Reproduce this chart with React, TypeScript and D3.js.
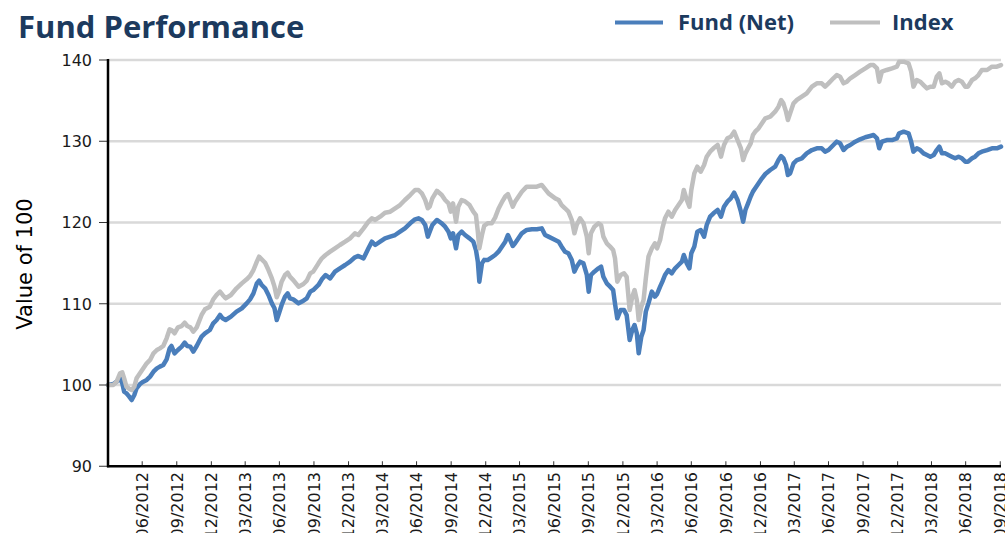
import React from "react";
import * as d3 from "d3";

// ---- data ----
const dates = [
  "2012-03-31","2012-04-14","2012-04-23","2012-05-02","2012-05-08","2012-05-13","2012-05-19","2012-05-26","2012-06-02","2012-06-09",
  "2012-06-15","2012-06-24","2012-07-03","2012-07-12","2012-07-21","2012-07-30","2012-08-08","2012-08-16","2012-08-25","2012-09-03",
  "2012-09-11","2012-09-16","2012-09-24","2012-10-03","2012-10-13","2012-10-21","2012-10-28","2012-11-05","2012-11-13","2012-11-22",
  "2012-12-05","2012-12-14","2012-12-27","2013-01-05","2013-01-14","2013-01-23","2013-01-30","2013-02-07","2013-02-21","2013-03-08",
  "2013-03-22","2013-04-04","2013-04-13","2013-04-22","2013-05-01","2013-05-07","2013-05-14","2013-05-23","2013-06-01","2013-06-10",
  "2013-06-17","2013-06-23","2013-06-29","2013-07-06","2013-07-15","2013-07-22","2013-07-28","2013-08-06","2013-08-20","2013-09-02",
  "2013-09-11","2013-09-20","2013-09-28","2013-10-12","2013-10-21","2013-10-31",
  "2013-11-12","2013-11-25","2013-12-08","2013-12-22","2014-01-04","2014-01-17","2014-01-26","2014-02-09","2014-02-22","2014-03-03",
  "2014-03-12","2014-03-25","2014-04-07","2014-04-21","2014-05-04","2014-05-17","2014-05-30","2014-06-13","2014-06-26","2014-07-05",
  "2014-07-14","2014-07-23","2014-07-30","2014-08-04","2014-08-11","2014-08-23","2014-09-05","2014-09-14","2014-09-23","2014-09-29",
  "2014-10-05","2014-10-13","2014-10-19","2014-10-28","2014-11-06","2014-11-18","2014-11-28","2014-12-05","2014-12-10","2014-12-14",
  "2014-12-21","2014-12-27","2015-01-05","2015-01-16","2015-01-25","2015-02-03","2015-02-12","2015-02-21","2015-02-28","2015-03-06",
  "2015-03-13","2015-03-19","2015-03-28","2015-04-06","2015-04-19","2015-05-03","2015-05-16","2015-05-29","2015-06-07","2015-06-16",
  "2015-07-04","2015-07-13","2015-07-21","2015-07-30","2015-08-08","2015-08-17","2015-08-24","2015-08-30","2015-09-08","2015-09-17",
  "2015-09-26","2015-10-01","2015-10-07","2015-10-16","2015-10-27","2015-11-03","2015-11-09","2015-11-18","2015-11-27","2015-12-05",
  "2015-12-10","2015-12-16","2015-12-25","2016-01-03","2016-01-10","2016-01-18","2016-01-25","2016-01-31","2016-02-06","2016-02-11",
  "2016-02-18","2016-02-24","2016-03-01","2016-03-08","2016-03-17","2016-03-25","2016-03-31","2016-04-08","2016-04-14","2016-04-21",
  "2016-04-30","2016-05-09","2016-05-18","2016-05-27","2016-06-05","2016-06-10","2016-06-18","2016-06-25","2016-06-30","2016-07-08",
  "2016-07-16","2016-07-25","2016-08-03","2016-08-10","2016-08-19","2016-08-28","2016-09-08","2016-09-17","2016-09-25","2016-10-04",
  "2016-10-13","2016-10-22","2016-10-31","2016-11-09","2016-11-15","2016-11-21","2016-11-28","2016-12-05","2016-12-11","2016-12-17",
  "2016-12-26","2017-01-04","2017-01-13","2017-01-26","2017-02-08",
  "2017-02-17","2017-02-24","2017-03-02","2017-03-09","2017-03-14","2017-03-20","2017-03-29","2017-04-07","2017-04-20","2017-05-03",
  "2017-05-17","2017-05-30","2017-06-12","2017-06-21","2017-06-30","2017-07-13","2017-07-22","2017-07-31","2017-08-09","2017-08-18",
  "2017-08-27","2017-09-09","2017-09-22","2017-10-06","2017-10-19","2017-10-28","2017-11-06","2017-11-12","2017-11-19","2017-12-02",
  "2017-12-16","2017-12-29","2018-01-04","2018-01-16","2018-01-29","2018-02-05","2018-02-11","2018-02-20","2018-03-01","2018-03-10",
  "2018-03-19","2018-03-28","2018-04-06","2018-04-14","2018-04-21","2018-04-28","2018-05-07","2018-05-15","2018-05-24","2018-06-02",
  "2018-06-11","2018-06-20","2018-06-29","2018-07-06","2018-07-17","2018-07-25","2018-08-03","2018-08-12","2018-08-26","2018-09-08",
  "2018-09-21","2018-10-02"
];

const fundNet = [
  100,100.12,100.41,100.82,100.2,99.18,98.98,98.6,98.15,98.77,
  99.59,100.12,100.41,100.62,101.03,101.64,102.05,102.26,102.46,103.16,
  104.51,104.8,103.9,104.31,104.72,105.21,104.8,104.72,104.1,104.8,
  105.95,106.36,106.77,107.59,108.0,108.62,108.21,108.0,108.41,109.03,
  109.44,110.05,110.54,111.28,112.51,112.84,112.31,111.9,111.08,110.05,
  109.44,108.0,108.82,109.85,110.87,111.28,110.67,110.54,110.05,110.38,
  110.67,111.49,111.69,112.31,113.01,113.54,
  113.13,113.95,114.36,114.77,115.18,115.72,115.88,115.59,116.82,117.64,
  117.23,117.64,118.05,118.26,118.46,118.87,119.28,119.9,120.39,120.51,
  120.31,119.69,118.26,118.87,119.69,120.31,119.9,119.49,118.87,118.05,
  118.67,116.82,118.46,118.87,118.46,118.05,117.64,116.62,115.18,112.72,
  114.97,115.4,115.38,115.72,116.0,116.41,117.03,117.64,118.46,117.85,
  117.11,117.44,118.05,118.67,119.08,119.16,119.16,119.28,118.46,118.26,
  117.85,117.64,117.03,116.41,116.21,115.38,113.95,114.56,115.18,114.98,
  113.54,111.49,113.54,113.95,114.36,114.56,113.33,112.51,112.1,111.69,
  110.0,108.21,109.23,109.23,108.6,105.54,106.77,107.38,106.36,103.9,
  105.95,106.77,109.03,110.05,111.49,110.87,111.2,112.1,112.72,113.54,
  114.15,113.74,114.36,114.77,115.18,116.0,114.97,114.36,116.21,117.03,
  118.87,119.08,118.26,119.69,120.72,121.13,121.54,120.72,121.95,122.56,
  122.97,123.67,122.77,121.33,120.1,121.54,122.36,123.2,123.8,124.21,
  124.82,125.44,125.97,126.46,126.87,
  127.69,128.18,127.9,127.08,125.85,126.05,127.28,127.69,127.9,128.51,
  128.92,129.13,129.13,128.72,128.92,129.54,129.95,129.74,128.92,129.33,
  129.54,129.95,130.24,130.49,130.65,130.77,130.36,129.13,129.95,130.15,
  130.15,130.36,130.98,131.18,130.98,129.95,128.72,129.13,128.92,128.51,
  128.31,128.1,128.31,128.92,129.33,128.51,128.51,128.31,128.1,127.9,
  128.1,127.9,127.49,127.49,127.9,128.1,128.51,128.72,128.92,129.13,
  129.13,129.33
];

const indexValues = [
  100,100.0,100.41,101.44,101.56,100.82,99.8,99.55,99.38,99.8,
  100.82,101.44,102.05,102.67,103.08,103.9,104.31,104.51,104.8,105.75,
  106.86,106.77,106.36,107.1,107.26,107.67,107.26,107.1,106.56,107.1,
  108.62,109.32,109.64,110.54,111.08,111.49,111.08,110.67,111.08,111.9,
  112.51,113.01,113.42,114.15,115.18,115.79,115.47,115.05,114.15,113.13,
  112.1,110.8,111.49,112.72,113.54,113.83,113.33,112.92,112.1,112.43,
  112.84,113.74,113.95,114.97,115.59,116.0,
  116.41,116.82,117.23,117.64,118.05,118.67,118.46,119.28,120.1,120.51,
  120.31,120.72,121.21,121.33,121.75,122.15,122.77,123.38,124.0,124.0,
  123.59,122.77,121.75,121.95,122.97,123.9,123.38,122.77,122.36,121.33,
  122.36,120.1,121.95,122.77,122.6,122.15,121.33,120.9,118.87,116.82,
  118.46,119.6,119.9,119.9,120.6,121.7,122.5,123.2,123.5,122.8,
  121.95,122.56,123.18,123.79,124.41,124.41,124.41,124.62,124.1,123.59,
  122.97,122.77,122.15,121.75,121.33,120.31,118.67,119.69,120.51,119.9,
  118.26,116.21,118.67,119.49,119.9,119.69,118.26,117.44,117.03,116.62,
  115.59,112.72,113.54,113.75,113.3,109.23,110.87,111.69,110.46,108.0,
  109.64,110.46,113.13,115.79,116.82,117.44,116.82,117.85,119.28,120.51,
  121.33,120.72,121.54,122.15,122.77,124.0,122.77,121.95,124.0,126.05,
  126.87,126.26,127.08,128.1,128.72,129.13,129.54,128.1,129.54,130.36,
  130.56,131.18,130.15,129.13,127.69,128.51,129.13,129.74,130.77,131.18,
  131.59,132.21,132.82,133.03,133.64,
  134.26,135.08,134.67,133.64,132.62,133.44,134.67,135.08,135.49,135.9,
  136.72,137.13,137.13,136.72,137.13,137.75,138.15,137.95,137.13,137.33,
  137.75,138.15,138.56,138.97,139.38,139.38,138.97,137.33,138.56,138.77,
  138.97,139.18,139.79,139.79,139.59,138.56,136.72,137.54,137.33,136.92,
  136.51,136.72,136.72,137.95,138.36,137.13,137.33,137.13,136.72,137.33,
  137.54,137.33,136.72,136.72,137.54,137.75,138.15,138.77,138.77,139.18,
  139.18,139.38
];

const yTicks = [90, 100, 110, 120, 130, 140];
const gridValues = [100, 110, 120, 130, 140];
const xTickDates = [
  "2012-06-30","2012-09-30","2012-12-31","2013-03-31","2013-06-30","2013-09-30","2013-12-31",
  "2014-03-31","2014-06-30","2014-09-30","2014-12-31","2015-03-31","2015-06-30","2015-09-30","2015-12-31",
  "2016-03-31","2016-06-30","2016-09-30","2016-12-31","2017-03-31","2017-06-30","2017-09-30","2017-12-31",
  "2018-03-31","2018-06-30","2018-09-30"
];

const seriesNames = ["Fund (Net)", "Index"];
const seriesColors = ["#4a7ebb", "#bfbfbf"];
const titleText = "Fund Performance";
const yAxisTitle = "Value of 100";

export default function App() {
  const W = 1005;
  const H = 533;
  const left = 108, right = 1001, top = 60, bottom = 466.25;
  const parse = d3.timeParse("%Y-%m-%d");
  const fmt = d3.timeFormat("%m/%Y");
  const parsed = dates.map((d) => parse(d) as Date);

  const x = d3.scaleTime().domain([parsed[0], parsed[parsed.length - 1]]).range([left, right]);
  const y = d3.scaleLinear().domain([90, 140]).range([bottom, top]);

  const line = d3
    .line<number>()
    .x((_, i) => x(parsed[i]))
    .y((v) => y(v));

  const tickFont = "'DejaVu Sans', Verdana, sans-serif";
  const boldFont = "'Open Sans', 'Noto Sans', sans-serif";
  const navy = "#1c3a5e";

  return (
    <div style={{ position: "absolute", left: 0, top: 0, width: W, height: H, overflow: "hidden", background: "#fff" }}>
      <svg width={W} height={H} style={{ display: "block" }}>
        <rect width={W} height={H} fill="#fff" />
        {/* title */}
        <text x={18} y={38} fontFamily={boldFont} fontWeight={700} fontSize={31} fill={navy}>
          {titleText}
        </text>
        {/* legend */}
        <line x1={615} x2={663} y1={22.5} y2={22.5} stroke={seriesColors[0]} strokeWidth={4} />
        <text x={678} y={29.5} fontFamily={boldFont} fontWeight={700} fontSize={22} fill={navy}>
          {seriesNames[0]}
        </text>
        <line x1={830} x2={880} y1={22.5} y2={22.5} stroke={seriesColors[1]} strokeWidth={4} />
        <text x={892} y={29.5} fontFamily={boldFont} fontWeight={700} fontSize={22} fill={navy}>
          {seriesNames[1]}
        </text>

        {/* gridlines */}
        {gridValues.map((v) => (
          <line key={"g" + v} x1={left} x2={right} y1={y(v)} y2={y(v)} stroke="#d9d9d9" strokeWidth={2.5} />
        ))}

        {/* series */}
        <path d={line(fundNet) || ""} fill="none" stroke={seriesColors[0]} strokeWidth={4.5} strokeLinejoin="round" strokeLinecap="round" />
        <path d={line(indexValues) || ""} fill="none" stroke={seriesColors[1]} strokeWidth={4.5} strokeLinejoin="round" strokeLinecap="round" />

        {/* y axis */}
        {yTicks.map((v) => (
          <g key={"y" + v}>
            <line x1={left - 9} x2={left} y1={y(v)} y2={y(v)} stroke="#333" strokeWidth={1} />
            <text x={92} y={y(v)} dy="0.36em" textAnchor="end" fontFamily={tickFont} fontSize={16} fill="#1a1a1a">
              {v}
            </text>
          </g>
        ))}
        <line x1={left} x2={left} y1={top - 1} y2={bottom + 1} stroke="#000" strokeWidth={2.5} />

        {/* x axis */}
        {xTickDates.map((s) => {
          const d = parse(s) as Date;
          const xx = x(d);
          return (
            <g key={s}>
              <line x1={xx} x2={xx} y1={bottom - 5} y2={bottom} stroke="#333" strokeWidth={1} />
              <text
                transform={`translate(${xx},472) rotate(-90)`}
                dy="0.36em"
                textAnchor="end"
                fontFamily={tickFont}
                fontSize={16}
                fill="#1a1a1a"
              >
                {fmt(d)}
              </text>
            </g>
          );
        })}
        <line x1={left - 1} x2={right} y1={bottom} y2={bottom} stroke="#000" strokeWidth={2.5} />

        {/* y axis title */}
        <text
          transform="translate(32,264) rotate(-90)"
          textAnchor="middle"
          fontFamily={tickFont}
          fontSize={21}
          fill="#000"
        >
          {yAxisTitle}
        </text>
      </svg>
    </div>
  );
}
